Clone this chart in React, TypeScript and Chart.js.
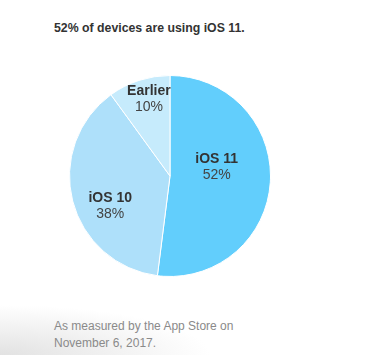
import React, { useEffect, useRef } from "react";
import { Chart, registerables } from "chart.js";

Chart.register(...registerables);

const categories = ["iOS 11", "iOS 10", "Earlier"];
const shares = [52, 38, 10];
const percentLabels = ["52%", "38%", "10%"];
const sliceColors = ["#62cefc", "#aee0fa", "#c6ebfc"];
const titleText = "52% of devices are using iOS 11.";
const footerLines = ["As measured by the App Store on", "November 6, 2017."];

const sliceLabelPlugin = {
  id: "sliceLabels",
  afterDatasetsDraw(chart: any, _args: any, opts: any) {
    const ctx = chart.ctx;
    const meta = chart.getDatasetMeta(0);
    meta.data.forEach((arc: any, i: number) => {
      const r = arc.outerRadius;
      const off = opts.offsets[i];
      const x = arc.x + off[0] * r;
      const y = arc.y + off[1] * r;
      ctx.save();
      ctx.textAlign = "center";
      ctx.textBaseline = "middle";
      ctx.fillStyle = "#333333";
      ctx.font = "bold 14px 'Liberation Sans', Arial, sans-serif";
      ctx.fillText(categories[i], x, y - 8);
      ctx.fillStyle = "#444444";
      ctx.font = "14px 'Liberation Sans', Arial, sans-serif";
      ctx.fillText(percentLabels[i], x, y + 8);
      ctx.restore();
    });
  },
};

export default function App() {
  const ref = useRef<HTMLCanvasElement>(null);
  useEffect(() => {
    if (!ref.current) return;
    const chart = new Chart(ref.current, {
      type: "pie",
      data: {
        labels: categories,
        datasets: [
          {
            data: shares,
            backgroundColor: sliceColors,
            borderColor: "#ffffff",
            borderWidth: 1,
          },
        ],
      },
      options: {
        responsive: false,
        animation: false,
        layout: { padding: 0 },
        plugins: {
          legend: { display: false },
          tooltip: { enabled: false },
          sliceLabels: {
            offsets: [
              [0.465, -0.085],
              [-0.595, 0.3],
              [-0.21, -0.765],
            ],
          },
        } as any,
      },
      plugins: [sliceLabelPlugin],
    });
    return () => chart.destroy();
  }, []);

  return (
    <div
      style={{
        position: "fixed",
        left: 0,
        top: 0,
        width: 365,
        height: 355,
        background: "#ffffff",
        overflow: "hidden",
        fontFamily: "'Liberation Sans', Arial, sans-serif",
      }}
    >
      <div
        style={{
          position: "absolute",
          left: 0,
          top: 295,
          width: 365,
          height: 60,
          background:
            "radial-gradient(ellipse 210px 50px at 0% 100%, #e2e2e2 0%, rgba(255,255,255,0) 100%)",
        }}
      />
      <div
        style={{
          position: "absolute",
          left: 54,
          top: 21,
          fontSize: 12.3,
          fontWeight: "bold",
          color: "#333333",
          whiteSpace: "nowrap",
        }}
      >
        {titleText}
      </div>
      <canvas
        ref={ref}
        width={202}
        height={202}
        style={{ position: "absolute", left: 69, top: 74.5, width: 202, height: 202 }}
      />
      <div
        style={{
          position: "absolute",
          left: 54,
          top: 318,
          fontSize: 12,
          lineHeight: "17px",
          color: "#8a8a8a",
          whiteSpace: "nowrap",
        }}
      >
        {footerLines.map((l) => (
          <div key={l}>{l}</div>
        ))}
      </div>
    </div>
  );
}
